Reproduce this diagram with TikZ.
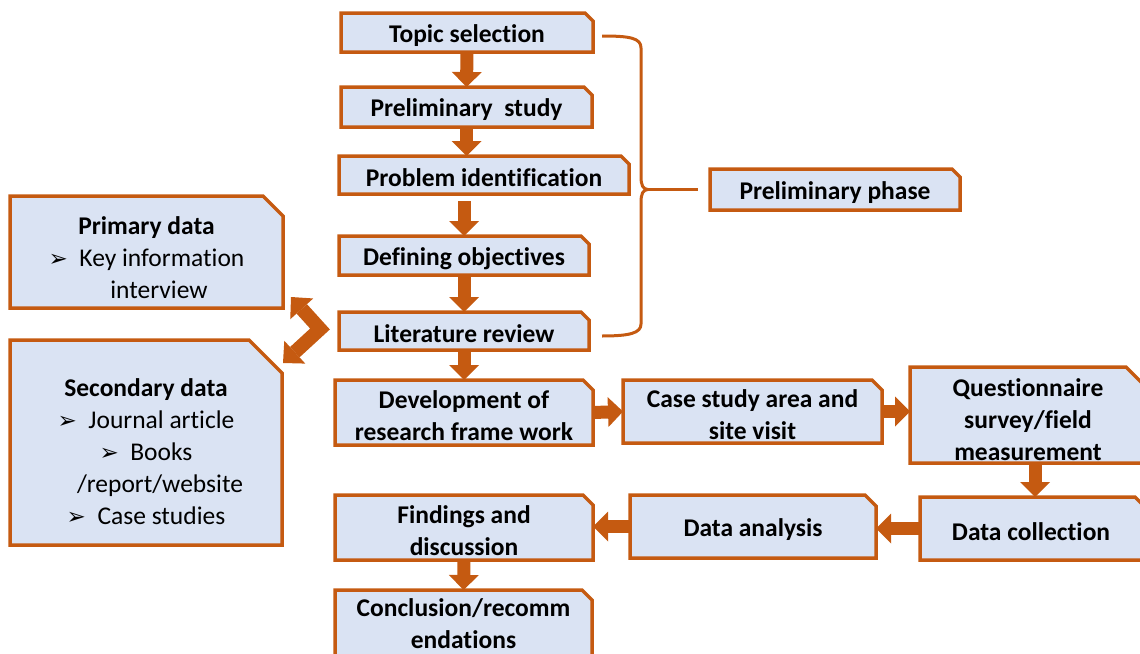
\documentclass[tikz,border=0pt]{standalone}
\usepackage{fontspec}
\setmainfont{Carlito}[Ligatures={NoCommon,NoRare}]
\newfontfamily\dingfont{DejaVu Sans}
\usetikzlibrary{arrows.meta,calc}

\definecolor{boxorange}{RGB}{197,90,17}
\definecolor{boxblue}{RGB}{218,227,243}
\newcommand{\boxfont}{\fontsize{25.5}{32}\selectfont\bfseries}
\newcommand{\arrowbullet}{{\dingfont\fontsize{23}{20}\selectfont ➢}}
\tikzset{
	boxline/.style={draw=boxorange,fill=boxblue,line width=3.5pt,line join=miter},
	boxarea/.style={rectangle,inner sep=0pt,outer sep=0pt},
	boxtext/.style={rectangle,inner sep=0pt,outer sep=0pt,align=center,font=\boxfont,yshift=-3pt},
	plaintext/.style={font=\boxfont\mdseries},
	blockarrow/.style={draw=boxorange,line width=13pt,->,>={Triangle[length=15pt,width=30pt,line width=0pt]}},
	chevron/.style={draw=boxorange,line width=14pt,line join=miter,<->,>={Triangle[length=16pt,width=31pt,line width=0pt]}},
	bracket/.style={draw=boxorange,line width=3pt}
}
\newcommand{\snipbox}[8][]{%
	\filldraw[boxline] (#3,#4) -- ({#5-#7},#4) -- (#5,{#4+#7}) -- (#5,#6) -- (#3,#6) -- cycle;
	\node[boxarea,minimum width={#5-#3},minimum height={#6-#4}] (#2) at ({(#3+#5)/2},{(#4+#6)/2}) {};
	\node[boxtext,#1] (#2-label) at (#2.center) {#8};}

\begin{document}
\begin{tikzpicture}[x=1pt,y=-1pt]
			\useasboundingbox (0,0) rectangle (1140,653);
			\snipbox{topic}{341}{13}{593}{52}{8}{Topic selection}
			\snipbox{prelim}{341}{87}{592}{127}{8}{Preliminary\ \ study}
			\snipbox{problem}{339}{156}{629}{194}{8}{Problem identification}
			\snipbox{objectives}{339}{236}{589}{275}{8}{Defining objectives}
			\snipbox{litrev}{339}{312}{589}{350}{8}{Literature review}
			\snipbox{devfw}{335}{380}{593}{445}{10}{Development of\\research frame work}
			\snipbox{casestudy}{623}{380}{882}{443}{10}{Case study area and\\site visit}
			\snipbox[yshift=-2pt]{quest}{910}{367}{1146}{463}{20}{Questionnaire\\survey/field\\measurement}
			\snipbox[xshift=-4pt]{datacoll}{920}{497}{1150}{560}{15}{Data collection}
			\snipbox{analysis}{630}{495}{876}{558}{11}{Data analysis}
			\snipbox{findings}{335}{495}{593}{560}{10}{Findings and\\discussion}
			\snipbox[yshift=2pt]{conclusion}{335}{590}{592}{656}{10}{Conclusion/recomm\\endations}
			\snipbox{prelphase}{710}{169}{960}{210}{8}{Preliminary phase}
			\snipbox[plaintext,yshift=-3pt]{primary}{10}{196}{283}{308}{20}{\textbf{Primary data}\\\arrowbullet\ \ Key information\\\hspace*{25pt}interview}
			\snipbox[plaintext,yshift=-6pt]{secondary}{10}{340}{282}{545}{33}{\textbf{Secondary data}\\\arrowbullet\ \ Journal article\\\arrowbullet\ \ Books\\\hspace*{28pt}/report/website\\\arrowbullet\ \ Case studies}
			\draw[blockarrow] (topic.south) -- (prelim.north);
			\draw[blockarrow] (prelim.south) -- (prelim.south |- problem.north);
			\draw[blockarrow,shorten <=7pt] (objectives.north |- problem.south) -- (objectives.north);
			\draw[blockarrow] (objectives.south) -- (litrev.north);
			\draw[blockarrow] (litrev.south) -- (devfw.north);
			\draw[blockarrow] (devfw.east) -- (casestudy.west);
			\draw[blockarrow] (casestudy.east) -- (casestudy.east -| quest.west);
			\draw[blockarrow] (quest.south -| datacoll.north) -- (datacoll.north);
			\draw[blockarrow] (datacoll.west) -- (datacoll.west -| analysis.east);
			\draw[blockarrow] (analysis.west) -- (analysis.west -| findings.east);
			\draw[blockarrow] (findings.south) -- (conclusion.north);
			\coordinate (chevtop) at (291,297);
			\coordinate (chevbend) at (320,329);
			\coordinate (chevbot) at (283,363);
			\draw[chevron] (chevtop) -- (chevbend) -- (chevbot);
			\coordinate (bracetop) at ([xshift=9pt,yshift=-3.5pt]topic.east);
			\coordinate (bracebot) at ([xshift=13pt,yshift=-5pt]litrev.east);
			\coordinate (bracetip) at ([xshift=-62pt]prelphase.west);
			\draw[bracket] (bracetop) .. controls (630,36) and (641,38) .. (641,48) -- (641,177) .. controls (641,185) and (643,189.5) .. (bracetip) .. controls (643,189.5) and (641,194) .. (641,202) -- (641,324) .. controls (641,333) and (630,336) .. (bracebot);
			\draw[bracket] (bracetip) -- ([xshift=-12pt]prelphase.west);
\end{tikzpicture}
\end{document}
